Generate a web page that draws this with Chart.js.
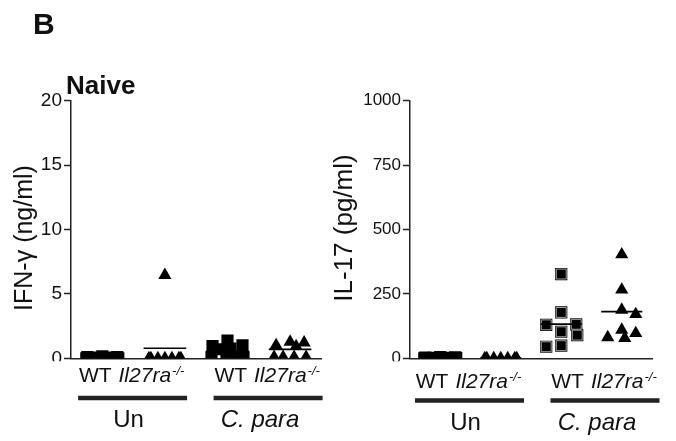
<!DOCTYPE html>
<html><head><meta charset="utf-8">
<script src="https://cdn.jsdelivr.net/npm/chart.js@4.4.1/dist/chart.umd.min.js"></script>
<style>
html,body{margin:0;padding:0;background:#fff;}
#wrap{position:relative;width:676px;height:441px;overflow:hidden;background:#fff;font-family:'Liberation Sans',Arial,sans-serif;color:#111;}
canvas{position:absolute;top:0;}
#c1{left:0;width:330px;height:441px;}
#c2{left:330px;width:346px;height:441px;}
.lbl{position:absolute;font-weight:bold;line-height:1;white-space:nowrap;}
</style></head><body>
<div id="wrap">
<canvas id="c1" width="330" height="441"></canvas>
<canvas id="c2" width="346" height="441"></canvas>
<div class="lbl" style="left:33px;top:9px;font-size:30px">B</div>
<div class="lbl" style="left:66px;top:72px;font-size:26px">Naive</div>
</div>
<script>
// ---- data ----
const strains = ['WT', 'Il27ra', 'WT', 'Il27ra'];
const strainSup = ['', '-/-', '', '-/-'];
const treatments = ['Un', 'C. para'];
const markerStyles = ['rect', 'triangle', 'rect', 'triangle'];

// IFN-γ (ng/ml)
const ifnTicks = [0, 5, 10, 15, 20];
const ifnWtUn = [0.1, 0.15, 0.05, 0, 0, 0.1, 0, 0.05];
const ifnKoUn = [6.45, 0, 0, 0, 0, 0, 0, 0];
const ifnWtCp = [1.37, 1.0, 0.95, 0.75, 0.7, 0.1, 0.05, 0.08, 0.05];
const ifnKoCp = [1.27, 1.21, 1.01, 0.93, 0.1, 0.1, 0.1, 0.1];
const ifnMeans = [0.25, 0.78, 0.55, 0.70];

// IL-17 (pg/ml)
const il17Ticks = [0, 250, 500, 750, 1000];
const il17WtUn = [2, 4, 0, 3, 5, 1, 2, 0];
const il17KoUn = [0, 0, 0, 0, 0, 0, 0];
const il17WtCp = [327, 178, 132, 130, 103, 90, 49, 45];
const il17KoCp = [403, 266, 188, 171, 110, 97, 81, 78];
const il17Means = [2, 1, 133, 181];

// ---- drawing ----
const FONT = "'Liberation Sans', Arial, sans-serif";
const INK = '#111';
const AXIS = '#222';
const RECT_R = 8.6, TRI_R = 7.6;
const clipBottom = {left: false, top: false, right: false, bottom: 0};

const axisTitlePlugin = {
  id: 'axisTitle',
  afterDraw(chart, args, o) {
    const ctx = chart.ctx;
    ctx.save();
    ctx.translate(o.x, o.y);
    ctx.rotate(-Math.PI / 2);
    ctx.font = o.size + 'px ' + FONT;
    ctx.fillStyle = INK;
    ctx.textAlign = 'center';
    ctx.textBaseline = 'alphabetic';
    ctx.fillText(o.text, 0, 0);
    ctx.restore();
  }
};

const groupLabelPlugin = {
  id: 'groupLabels',
  afterDraw(chart, args, o) {
    const {ctx, chartArea, scales: {x}} = chart;
    ctx.save();
    ctx.fillStyle = '#fff';
    ctx.fillRect(0, chartArea.bottom + 3, chart.width, chart.height - chartArea.bottom - 3);
    const c1 = x.getPixelForValue(1.5) - 1;
    const centers = [c1, c1 + 135.5];
    const fN = '21px ' + FONT, fI = 'italic 21px ' + FONT, fS = 'italic 13px ' + FONT;
    centers.forEach((c, gi) => {
      const a = 2 * gi, b = 2 * gi + 1;
      ctx.textBaseline = 'alphabetic';
      ctx.textAlign = 'left';
      ctx.font = fN; const w1 = ctx.measureText(strains[a]).width;
      ctx.font = fI; const w2 = ctx.measureText(strains[b]).width;
      ctx.font = fS; const w3 = ctx.measureText(strainSup[b]).width;
      const gap = 7;
      const total = w1 + gap + w2 + 1 + w3;
      let sx = c - 1 - total / 2;
      ctx.fillStyle = INK;
      ctx.font = fN; ctx.fillText(strains[a], sx, o.base);
      sx += w1 + gap;
      ctx.font = fI; ctx.fillText(strains[b], sx, o.base);
      sx += w2 + 1;
      ctx.font = fS; ctx.fillText(strainSup[b], sx, o.base - 7);
      // group bar
      ctx.fillStyle = AXIS;
      ctx.fillRect(c - 54.5, o.bar - 2.25, 109, 4.5);
      // treatment
      ctx.fillStyle = INK;
      ctx.textAlign = 'center';
      ctx.font = (gi === 1 ? 'italic ' : '') + '24px ' + FONT;
      ctx.fillText(treatments[gi], c - (gi === 0 ? 4 : 8), o.treat);
    });
    ctx.restore();
  }
};

function swarm(values, yS, hx, hy, W) {
  const idx = values.map((_, i) => i).sort((a, b) => values[b] - values[a]);
  const cands = [0];
  for (let c = 1; c <= W; c++) cands.push(c, -c);
  const placed = [], offs = [];
  idx.forEach(i => {
    const py = yS.getPixelForValue(values[i]);
    let best = 0, bestCost = Infinity;
    cands.forEach(c => {
      let cost = 0;
      placed.forEach(p => {
        const ox = hx - Math.abs(c - p.x), oy = hy - Math.abs(py - p.y);
        if (ox > 0 && oy > 0) cost += (ox * oy) ** 2;
      });
      if (cost < bestCost - 1e-9) { bestCost = cost; best = c; }
    });
    offs[i] = best;
    placed.push({x: best, y: py});
  });
  return offs;
}

function buildChart(id, cfg) {
  const datasets = [];
  const groupDs = [];
  cfg.groups.forEach((vals, gi) => {
    const isRect = markerStyles[gi] === 'rect';
    const ds = {
      type: 'scatter',
      data: vals.map(v => ({x: gi + 1, y: v})),
      pointStyle: markerStyles[gi],
      pointRadius: isRect ? RECT_R : TRI_R,
      pointHoverRadius: isRect ? RECT_R : TRI_R,
      pointBackgroundColor: '#000',
      pointBorderColor: '#000',
      pointBorderWidth: 0,
      clip: clipBottom,
      order: 2
    };
    datasets.push(ds);
    groupDs.push({ds, vals, gi, isRect});
    if (gi === cfg.rimGroup) {
      const rim = {
        type: 'scatter',
        data: vals.map(v => ({x: gi + 1, y: v})),
        pointStyle: 'rect',
        pointRadius: RECT_R - 1.6,
        pointHoverRadius: RECT_R - 1.6,
        pointBackgroundColor: '#000',
        pointBorderColor: '#c8c8c8',
        pointBorderWidth: 0.8,
        clip: clipBottom,
        order: 1
      };
      datasets.push(rim);
      groupDs.push({ds: rim, vals, gi, isRect});
    }
  });
  cfg.means.forEach((m, gi) => {
    datasets.push({
      type: 'line',
      data: [{x: gi + 1 - 0.34, y: m}, {x: gi + 1 + 0.34, y: m}],
      borderColor: '#000',
      borderWidth: 1.7,
      pointRadius: 0,
      fill: false,
      clip: clipBottom,
      order: 0
    });
  });

  const chart = new Chart(document.getElementById(id), {
    type: 'scatter',
    data: {datasets},
    options: {
      responsive: false,
      animation: false,
      events: [],
      layout: {padding: {left: 0, top: 100.7, right: cfg.padRight, bottom: 82.7}},
      plugins: {
        legend: {display: false},
        tooltip: {enabled: false},
        axisTitle: cfg.title,
        groupLabels: cfg.labels
      },
      scales: {
        x: {
          type: 'linear', min: 0.5, max: 4.5,
          ticks: {display: false},
          grid: {display: false},
          border: {display: true, color: AXIS, width: 1.5},
          afterFit(s) { s.height = 0; }
        },
        y: {
          type: 'linear', min: 0, max: cfg.ticks[cfg.ticks.length - 1],
          afterBuildTicks(s) { s.ticks = cfg.ticks.map(v => ({value: v})); },
          ticks: {font: {family: FONT, size: cfg.tickFont}, color: INK, padding: 2, callback: v => String(v)},
          grid: {display: true, drawOnChartArea: false, drawTicks: true, tickLength: 7, tickColor: AXIS, tickWidth: 1.5, color: AXIS},
          border: {display: true, color: AXIS, width: 1.5},
          afterFit(s) { s.width = cfg.axisWidth; }
        }
      }
    },
    plugins: [axisTitlePlugin, groupLabelPlugin]
  });

  // spread overlapping points sideways (beeswarm) using the chart's own scales
  const xS = chart.scales.x, yS = chart.scales.y;
  const ppu = xS.getPixelForValue(2) - xS.getPixelForValue(1);
  const cache = {};
  groupDs.forEach(g => {
    if (!cache[g.gi]) cache[g.gi] = swarm(g.vals, yS, g.isRect ? 15 : 14, 12.5, 16);
    const offs = cache[g.gi];
    g.ds.data = g.vals.map((v, i) => ({x: g.gi + 1 + offs[i] / ppu, y: v}));
  });
  chart.update('none');
  return chart;
}

buildChart('c1', {
  groups: [ifnWtUn, ifnKoUn, ifnWtCp, ifnKoCp],
  means: ifnMeans,
  ticks: ifnTicks,
  tickFont: 19,
  axisWidth: 71,
  padRight: 2,
  rimGroup: -1,
  title: {text: 'IFN-\u03b3 (ng/ml)', x: 32, y: 238, size: 25},
  labels: {base: 382, bar: 398, treat: 427}
});

buildChart('c2', {
  groups: [il17WtUn, il17KoUn, il17WtCp, il17KoCp],
  means: il17Means,
  ticks: il17Ticks,
  tickFont: 17,
  axisWidth: 80,
  padRight: 24,
  rimGroup: 2,
  title: {text: 'IL-17 (pg/ml)', x: 22, y: 228, size: 26},
  labels: {base: 388, bar: 400.5, treat: 430}
});
</script>
</body></html>
